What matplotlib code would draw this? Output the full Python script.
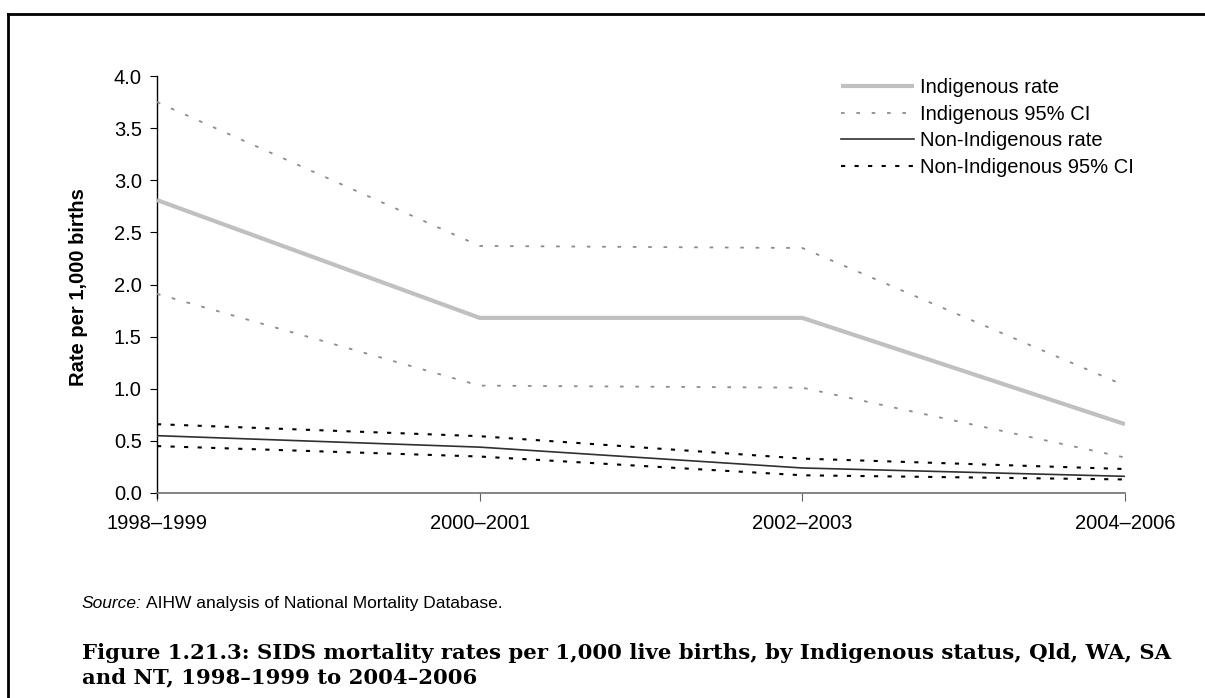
import matplotlib
matplotlib.use("Agg")
import matplotlib.pyplot as plt
from matplotlib.lines import Line2D

periods = ["1998\u20131999", "2000\u20132001", "2002\u20132003", "2004\u20132006"]
indig_rate = [2.81, 1.68, 1.68, 0.66]
indig_ci_upper = [3.75, 2.37, 2.35, 1.03]
indig_ci_lower = [1.91, 1.03, 1.01, 0.34]
nonindig_rate = [0.55, 0.44, 0.24, 0.16]
nonindig_ci_upper = [0.66, 0.545, 0.33, 0.23]
nonindig_ci_lower = [0.45, 0.35, 0.17, 0.13]
y_ticks = [0.0, 0.5, 1.0, 1.5, 2.0, 2.5, 3.0, 3.5, 4.0]

plt.rcParams["font.family"] = ["Liberation Sans", "DejaVu Sans"]

W, H = 1205, 698
FS = 14.5
fig = plt.figure(figsize=(W / 100, H / 100), dpi=100)
ax = fig.add_axes([157 / W, 1 - 493 / H, (1125 - 157) / W, (493 - 76) / H])

x = list(range(len(periods)))
ax.plot(x, indig_rate, color="#c0c0c0", lw=3.0, solid_capstyle="butt",
        label="Indigenous rate", zorder=3)
ax.plot(x, indig_ci_upper, color="#8c8c8c", lw=1.3, dashes=(2, 6.5),
        label="Indigenous 95% CI", zorder=3)
ax.plot(x, indig_ci_lower, color="#8c8c8c", lw=1.3, dashes=(2, 6.5), zorder=3)
ax.plot(x, nonindig_rate, color="#303030", lw=1.2,
        label="Non-Indigenous rate", zorder=4)
ax.plot(x, nonindig_ci_upper, color="#000000", lw=1.5, dashes=(2, 4.5),
        label="Non-Indigenous 95% CI", zorder=4)
ax.plot(x, nonindig_ci_lower, color="#000000", lw=1.5, dashes=(2, 4.5), zorder=4)

ax.set_xlim(0, 3)
ax.set_ylim(0, 4)
ax.set_xticks(x)
ax.set_xticklabels(periods, fontsize=FS)
ax.set_yticks(y_ticks)
ax.set_yticklabels([f"{v:.1f}" for v in y_ticks], fontsize=FS)
ax.tick_params(axis="y", length=5, width=0.8, pad=6, color="#000000")
ax.tick_params(axis="x", length=6, width=0.8, pad=9, color="#606060",
               direction="out")
for s in ("top", "right"):
    ax.spines[s].set_visible(False)
ax.spines["left"].set_color("#000000")
ax.spines["left"].set_linewidth(1.0)
ax.spines["bottom"].set_color("#707070")
ax.spines["bottom"].set_linewidth(1.2)
ax.spines["left"].set_bounds(-0.05, 4)

fig.text(78 / W, 1 - 287 / H, "Rate per 1,000 births", fontsize=FS,
         fontweight="bold", rotation=90, ha="center", va="center")

leg = ax.legend(loc="upper left",
                bbox_to_anchor=((841 - 157) / 968, 1.0 - 2 / 417),
                frameon=False, fontsize=FS, handlelength=3.6, handletextpad=0.3,
                labelspacing=0.38, borderaxespad=0.0, borderpad=0.0)

# source line: italic lead-in followed by plain text, sharing a baseline
src_y = 1 - 608 / H
lead = fig.text(82 / W, src_y, "Source:", fontsize=12.5, style="italic",
                va="baseline", ha="left")
renderer = fig.canvas.get_renderer()
bb = lead.get_window_extent(renderer)
fig.text((bb.x1 + 4) / W, src_y, "AIHW analysis of National Mortality Database.",
         fontsize=12.5, va="baseline", ha="left")

cap_font = ["DejaVu Serif"]
fig.text(82 / W, 1 - 653 / H,
         "Figure 1.21.3: SIDS mortality rates per 1,000 live births, by Indigenous status, Qld, WA, SA",
         fontsize=15.3, fontweight="bold", family=cap_font, va="center", ha="left")
fig.text(82 / W, 1 - 677 / H, "and NT, 1998\u20131999 to 2004\u20132006",
         fontsize=15.3, fontweight="bold", family=cap_font, va="center", ha="left")

# page frame: top and left rules
fig.add_artist(Line2D([8 / W, 1.0], [1 - 14 / H, 1 - 14 / H], color="black",
                      lw=2.0, transform=fig.transFigure))
fig.add_artist(Line2D([8 / W, 8 / W], [0.0, 1 - 14 / H], color="black",
                      lw=2.0, transform=fig.transFigure))

fig.savefig("out.png", dpi=100)
